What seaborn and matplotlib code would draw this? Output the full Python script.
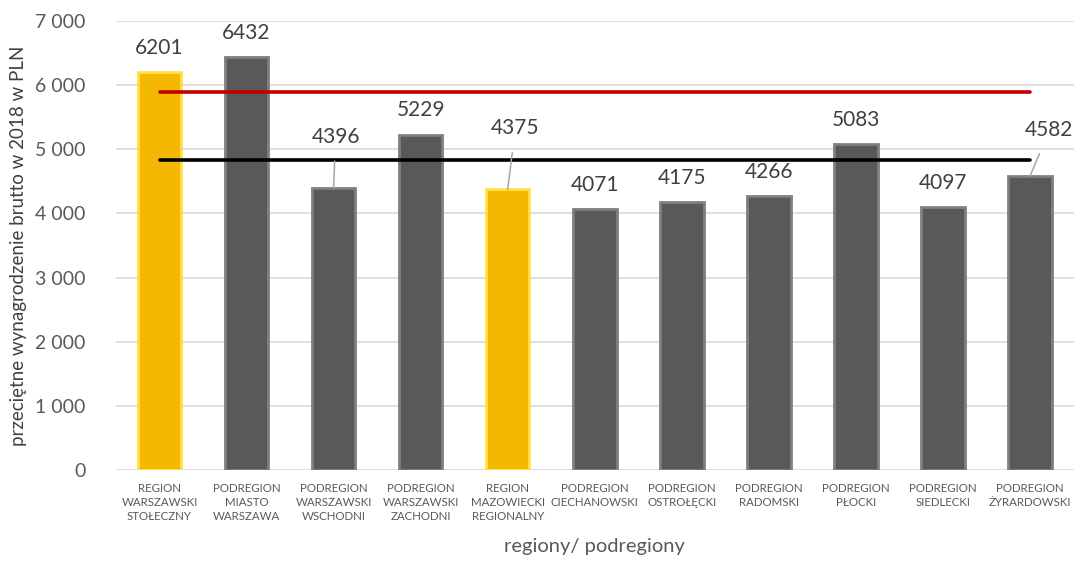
import matplotlib
matplotlib.use("Agg")
import matplotlib.pyplot as plt
import seaborn as sns
import pandas as pd

categories = [
    "REGION\nWARSZAWSKI\nSTOŁECZNY",
    "PODREGION\nMIASTO\nWARSZAWA",
    "PODREGION\nWARSZAWSKI\nWSCHODNI",
    "PODREGION\nWARSZAWSKI\nZACHODNI",
    "REGION\nMAZOWIECKI\nREGIONALNY",
    "PODREGION\nCIECHANOWSKI",
    "PODREGION\nOSTROŁĘCKI",
    "PODREGION\nRADOMSKI",
    "PODREGION\nPŁOCKI",
    "PODREGION\nSIEDLECKI",
    "PODREGION\nŻYRARDOWSKI",
]
values = [6201, 6432, 4396, 5229, 4375, 4071, 4175, 4266, 5083, 4097, 4582]
is_region = [True, False, False, False, True, False, False, False, False, False, False]
red_line_value = 5890
black_line_value = 4830
yticks = [0, 1000, 2000, 3000, 4000, 5000, 6000, 7000]

sns.set_theme(style="white")
plt.rcParams["font.family"] = ["Lato", "DejaVu Sans"]

df = pd.DataFrame({"cat": categories, "val": values,
                   "kind": ["region" if r else "sub" for r in is_region]})

fig = plt.figure(figsize=(10.76, 5.63), dpi=100)
ax = fig.add_axes([116/1076, 1-470/563, (1073.5-116)/1076, (470-21)/563])

face_pal = {"region": "#F5B800", "sub": "#595959"}
sns.barplot(data=df, x="cat", y="val", hue="kind", palette=face_pal,
            width=0.50, dodge=False, legend=False, ax=ax, zorder=3,
            saturation=1, linewidth=0)
# bevel-like edges: colour the edge according to the face colour
for patch in ax.patches:
    fc = matplotlib.colors.to_hex(patch.get_facecolor())
    patch.set_edgecolor("#FFE24A" if fc.lower() == "#f5b800" else "#7F7F7F")
    patch.set_linewidth(2.0)

n = len(categories)
ax.hlines(red_line_value, 0, n - 1, color="#C00000", linewidth=2.6, zorder=5,
          capstyle="round")
ax.hlines(black_line_value, 0, n - 1, color="black", linewidth=2.6, zorder=5,
          capstyle="round")

ax.set_ylim(0, 7000)
ax.set_xlim(-0.5, n - 0.5)
ax.set_yticks(yticks)
ax.set_yticklabels([f"{v:,}".replace(",", " ") for v in yticks],
                   fontsize=14, color="#595959")
ax.yaxis.grid(True, color="#D9D9D9", linewidth=1.2, zorder=0)
ax.set_axisbelow(True)
for s in ax.spines.values():
    s.set_visible(False)
ax.tick_params(axis="both", length=0)
ax.tick_params(axis="y", pad=22)
ax.tick_params(axis="x", pad=9)
ax.set_xticks(range(n))
ax.set_xticklabels(categories, fontsize=8.3, color="#595959", linespacing=1.35)

ax.set_ylabel("przeciętne wynagrodzenie brutto w 2018 w PLN", fontsize=13.5,
              color="#404040", labelpad=6)
ax.set_xlabel("regiony/ podregiony", fontsize=14.5, color="#595959", labelpad=12)

# label offsets in points (dx, dy) relative to bar top; leader lines for some
offsets = {2: (1.5, 37), 4: (5.5, 44), 10: (14, 33)}
for i, v in enumerate(values):
    if i in offsets:
        dx, dy = offsets[i]
        ax.annotate(str(v), xy=(i, v), xytext=(dx, dy), textcoords="offset points",
                    ha="center", va="center", fontsize=15, color="#404040",
                    zorder=6,
                    arrowprops=dict(arrowstyle="-", color="#A6A6A6", lw=1.1,
                                    shrinkA=8, shrinkB=0))
    else:
        ax.annotate(str(v), xy=(i, v), xytext=(0, 17.5), textcoords="offset points",
                    ha="center", va="center", fontsize=15, color="#404040",
                    zorder=6)

fig.savefig("out.png", dpi=100)
